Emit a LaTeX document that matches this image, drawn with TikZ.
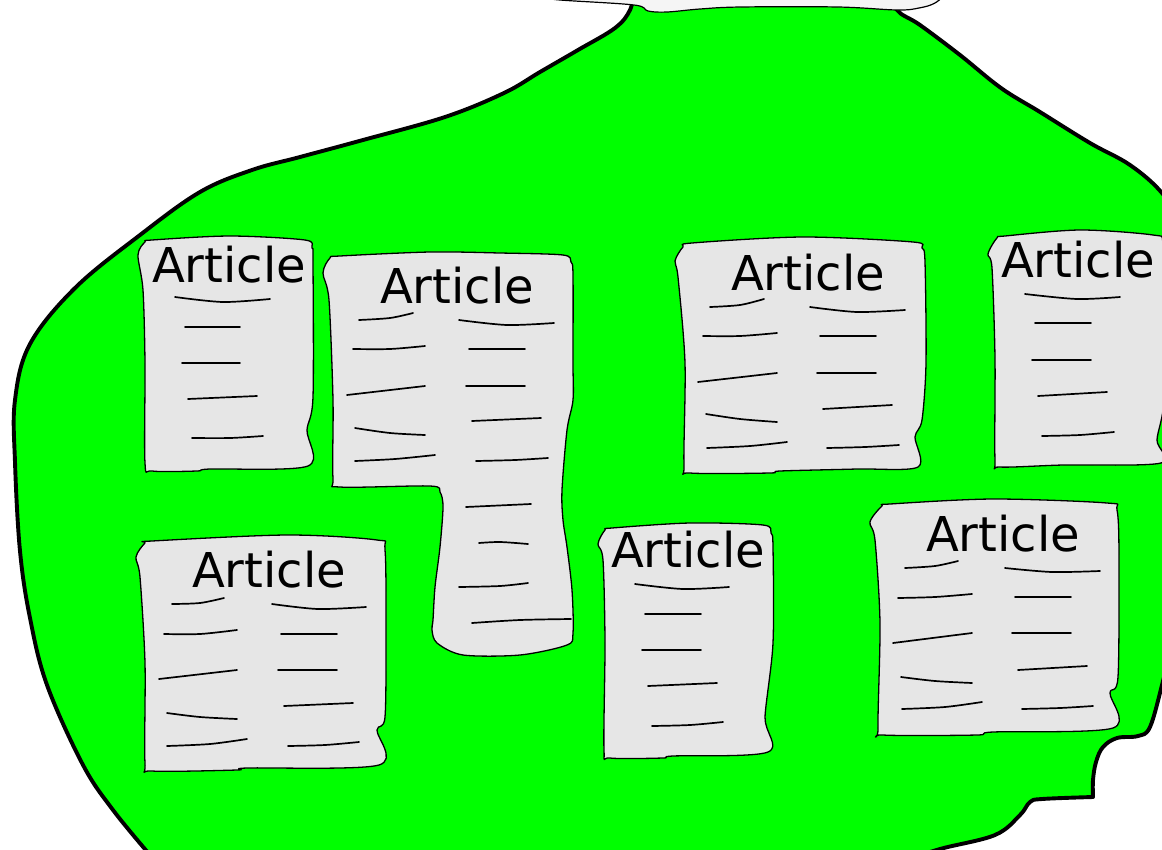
\documentclass[tikz,border=0pt]{standalone}
\usepackage{fontspec}
\setmainfont{DejaVu Sans}
\definecolor{blobgreen}{HTML}{00FF00}
\definecolor{paper}{HTML}{E6E6E6}
\definecolor{cloudfill}{HTML}{F5F5F5}
\begin{document}
\begin{tikzpicture}[x=1pt,y=-1pt,
  blob/.style={fill=blobgreen,draw=black,line width=3.9pt,line join=round},
  cloud/.style={fill=cloudfill,draw=black,line width=1.2pt},
  paperbox/.style={fill=paper,draw=black,line width=1.3pt,line join=round},
  txtline/.style={draw=black,line width=1.7pt,line cap=round},
  title/.style={font=\fontsize{48}{58}\selectfont,anchor=base,inner sep=0pt}]
\useasboundingbox (0,0) rectangle (1162,849);
\clip (0,0) rectangle (1162,849);
% green blob
\path[blob] plot[smooth,tension=0.6] coordinates {(895,-10) (897,10) (920,25) (960,55) (1001,88) (1040,112) (1090,143) (1130,165) (1162,193) (1185,230)}
  -- (1185,640)
  -- plot[smooth,tension=0.6] coordinates {(1168,660) (1162,685) (1150,727) (1138,736) (1117,738) (1103,747) (1096,762) (1093,780) (1093,797)}
  -- plot[smooth,tension=0.6] coordinates {(1093,797) (1042,799) (1030,802) (1020,815) (995,835) (940,849) (900,862)}
  -- (900,875) -- (150,875)
  -- plot[smooth,tension=0.6] coordinates {(150,855) (113,810) (83,765) (47,685) (30,618) (20,551) (15,462) (15,400) (30,344) (75,288) (140,235) (200,192) (252,170) (300,157) (363,140) (445,117) (504,93) (540,72) (578,50) (615,28) (630,10) (634,-10)}
  -- cycle;
% top cloud
\path[cloud] plot[smooth,tension=0.6] coordinates {(540,-3) (560,0) (634,5) (648,11) (667,12) (700,9) (741,7) (838,7) (897,10) (919,8) (935,3) (948,-8)}
  -- (948,-20) -- (540,-20) -- cycle;
% ---------- article 1
\path[paperbox] plot[smooth cycle,tension=0.5] coordinates {(138,255) (145,242) (152,240) (230,236) (305,240) (312,248) (313,262) (313,397) (307,430) (308,466) (210,469) (197,471) (152,471) (145,463) (145,363) (143,290)};
\node[title] (a1) at (229,282) {Article};
\draw[txtline] plot[smooth] coordinates {(175,297) (223,302) (270,299)};
\draw[txtline] (185,327) -- (240,327);
\draw[txtline] (182,363) -- (240,363);
\draw[txtline] (188,399) -- (257,396);
\draw[txtline] plot[smooth] coordinates {(192,438) (230,438) (263,436)};
% ---------- article 2
\path[paperbox] plot[smooth cycle,tension=0.5] coordinates {(323,273) (330,258) (340,256) (430,252) (500,253) (563,255) (571,262) (573,275) (573,363) (573,400) (567,430) (562,490) (563,520) (567,547) (572,590) (573,633) (567,645) (520,655) (463,655) (437,643) (432,630) (433,620) (435,587) (440,547) (443,507) (440,492) (430,486) (340,487) (333,478) (333,400) (329,300)};
\node[title] (a2) at (457,303) {Article};
\draw[txtline] plot[smooth] coordinates {(359,320) (390,318) (413,313)};
\draw[txtline] plot[smooth] coordinates {(353,349) (390,349) (425,346)};
\draw[txtline] (347,395) -- (425,386);
\draw[txtline] plot[smooth] coordinates {(355,428) (390,433) (425,435)};
\draw[txtline] plot[smooth] coordinates {(355,461) (395,459) (435,455)};
\draw[txtline] plot[smooth] coordinates {(459,320) (507,325) (554,323)};
\draw[txtline] (469,349) -- (525,349);
\draw[txtline] (466,386) -- (525,386);
\draw[txtline] (472,421) -- (541,418);
\draw[txtline] plot[smooth] coordinates {(476,461) (515,460) (548,458)};
\draw[txtline] (466,507) -- (531,504);
\draw[txtline] plot[smooth] coordinates {(479,543) (500,542) (528,544)};
\draw[txtline] plot[smooth] coordinates {(459,587) (500,586) (528,583)};
\draw[txtline] plot[smooth] coordinates {(472,623) (520,620) (571,619)};
% ---------- article 3
\path[paperbox] plot[smooth cycle,tension=0.5] coordinates {(675,261) (683,247) (692,243) (803,237) (913,242) (922,248) (925,262) (926,363) (922,420) (915,437) (918,467) (857,469) (780,471) (770,473) (690,473) (684,465) (685,363) (678,277)};
\node[title] (a3) at (808,290) {Article};
\draw[txtline] plot[smooth] coordinates {(710,307) (740,305) (764,299)};
\draw[txtline] plot[smooth] coordinates {(703,336) (740,336) (777,333)};
\draw[txtline] (698,382) -- (777,373);
\draw[txtline] plot[smooth] coordinates {(706,414) (740,419) (777,422)};
\draw[txtline] plot[smooth] coordinates {(707,448) (750,446) (787,442)};
\draw[txtline] plot[smooth] coordinates {(810,307) (857,312) (905,310)};
\draw[txtline] (820,336) -- (876,336);
\draw[txtline] (817,373) -- (876,373);
\draw[txtline] (823,409) -- (892,405);
\draw[txtline] plot[smooth] coordinates {(827,448) (865,447) (899,445)};
% ---------- article 4
\path[paperbox] plot[smooth cycle,tension=0.5] coordinates {(988,254) (997,238) (1005,236) (1080,230) (1153,235) (1163,243) (1164,300) (1164,400) (1157,440) (1161,463) (1063,465) (1000,467) (995,460) (995,358) (992,268)};
\node[title] (a4) at (1078,277) {Article};
\draw[txtline] plot[smooth] coordinates {(1025,294) (1077,299) (1120,297)};
\draw[txtline] (1035,323) -- (1091,323);
\draw[txtline] (1032,360) -- (1091,360);
\draw[txtline] (1038,396) -- (1107,392);
\draw[txtline] plot[smooth] coordinates {(1042,436) (1080,435) (1114,432)};
% ---------- article 5
\path[paperbox] plot[smooth cycle,tension=0.5] coordinates {(136,557) (145,543) (152,541) (287,535) (377,540) (385,550) (386,630) (385,717) (377,730) (379,765) (247,768) (237,770) (152,771) (145,763) (145,663) (140,577)};
\node[title] (a5) at (269,587) {Article};
\draw[txtline] plot[smooth] coordinates {(172,604) (200,603) (224,598)};
\draw[txtline] plot[smooth] coordinates {(164,634) (200,634) (237,630)};
\draw[txtline] (159,679) -- (237,670);
\draw[txtline] plot[smooth] coordinates {(167,713) (200,717) (237,719)};
\draw[txtline] plot[smooth] coordinates {(167,746) (210,744) (247,739)};
\draw[txtline] plot[smooth] coordinates {(272,604) (318,609) (366,607)};
\draw[txtline] (281,634) -- (337,634);
\draw[txtline] (278,670) -- (337,670);
\draw[txtline] (284,706) -- (353,703);
\draw[txtline] plot[smooth] coordinates {(288,746) (325,745) (359,742)};
% ---------- article 6
\path[paperbox] plot[smooth cycle,tension=0.5] coordinates {(598,544) (605,530) (612,528) (690,523) (763,525) (771,533) (773,547) (773,643) (765,717) (768,752) (673,756) (663,758) (610,758) (604,750) (605,643) (603,560)};
\node[title] (a6) at (688,567) {Article};
\draw[txtline] plot[smooth] coordinates {(635,584) (683,589) (729,587)};
\draw[txtline] (645,614) -- (701,614);
\draw[txtline] (642,650) -- (701,650);
\draw[txtline] (648,686) -- (717,683);
\draw[txtline] plot[smooth] coordinates {(652,726) (690,725) (723,722)};
% ---------- article 7
\path[paperbox] plot[smooth cycle,tension=0.5] coordinates {(870,522) (882,506) (890,504) (993,499) (1107,503) (1117,510) (1119,557) (1118,677) (1110,693) (1113,728) (993,732) (977,735) (883,735) (878,728) (880,623) (875,540)};
\node[title] (a7) at (1003,551) {Article};
\draw[txtline] plot[smooth] coordinates {(905,568) (935,566) (958,561)};
\draw[txtline] plot[smooth] coordinates {(898,598) (935,597) (972,594)};
\draw[txtline] (893,643) -- (972,633);
\draw[txtline] plot[smooth] coordinates {(901,677) (935,681) (972,683)};
\draw[txtline] plot[smooth] coordinates {(902,709) (945,707) (982,702)};
\draw[txtline] plot[smooth] coordinates {(1005,568) (1052,572) (1100,571)};
\draw[txtline] (1015,597) -- (1071,597);
\draw[txtline] (1012,633) -- (1071,633);
\draw[txtline] (1018,670) -- (1087,666);
\draw[txtline] plot[smooth] coordinates {(1022,709) (1060,708) (1093,706)};
\end{tikzpicture}
\end{document}
